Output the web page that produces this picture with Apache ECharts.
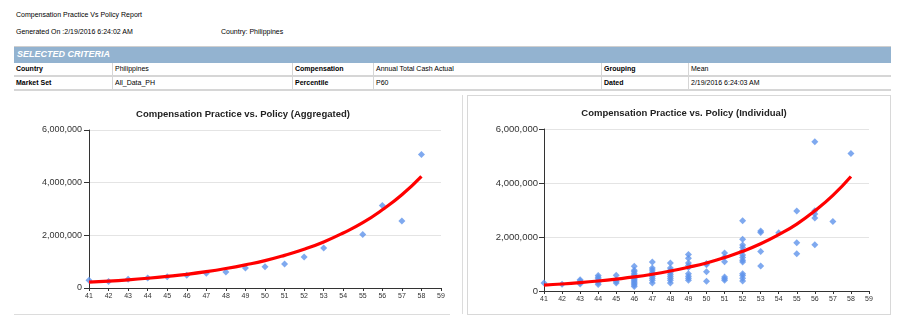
<!DOCTYPE html>
<html><head><meta charset="utf-8">
<script src="https://cdn.jsdelivr.net/npm/echarts@6/dist/echarts.min.js"></script>
<style>
html,body{margin:0;padding:0}
body{width:902px;height:325px;overflow:hidden;background:#fff;font-family:"Liberation Sans",Arial,sans-serif;position:relative}
.t{position:absolute;font-size:7px;color:#000;white-space:nowrap;line-height:9px}
.b{font-weight:bold}
.box{position:absolute}
#chart{position:absolute;left:0;top:0;width:902px;height:325px}
</style>
</head>
<body>
<div class="t" style="left:16px;top:10px">Compensation Practice Vs Policy Report</div>
<div class="t" style="left:16px;top:27px">Generated On :2/19/2016 6:24:02 AM</div>
<div class="t" style="left:221px;top:27px">Country: Philippines</div>

<div class="box" style="left:14px;top:46px;width:877px;height:1px;background:#cfcfcf"></div>
<div class="box" style="left:14px;top:47px;width:877px;height:16px;background:#93b3d0"></div>
<div class="t b" style="left:17px;top:49px;font-size:9px;line-height:11px;color:#fff;font-style:italic">SELECTED CRITERIA</div>
<div class="box" style="left:14px;top:63px;width:877px;height:28px;background:#d6d6d6"></div>
<div id="rows"></div>

<div class="box" style="left:14px;top:314px;width:436px;height:1px;background:#dcdcdc"></div>
<div class="box" style="left:462px;top:95px;width:1px;height:219px;background:#dcdcdc"></div>
<div class="box" style="left:467px;top:95px;width:422px;height:218px;border:1px solid #d8d8d8"></div>

<div id="chart"></div>
<script>
// ---- criteria table text ----
const criteriaRow1 = ["Country", "Philippines", "Compensation", "Annual Total Cash Actual", "Grouping", "Mean"];
const criteriaRow2 = ["Market Set", "All_Data_PH", "Percentile", "P60", "Dated", "2/19/2016 6:24:03 AM"];

// ---- chart data ----
const xTicks = [41,42,43,44,45,46,47,48,49,50,51,52,53,54,55,56,57,58,59];
const yTicks = [0, 2000000, 4000000, 6000000];

const aggAge = [41,42,43,44,45,46,47,48,49,50,51,52,53,55,56,57,58];
const aggPay = [290000,250000,330000,380000,430000,480000,560000,610000,760000,810000,910000,1180000,1520000,2030000,3130000,2540000,5070000];

const policyAge = [41,42,43,44,45,46,47,48,49,50,51,52,53,54,55,56,57,58];
const policyPay = [220000,260000,310000,370000,440000,520000,620000,740000,880000,1040000,1240000,1470000,1750000,2090000,2480000,2970000,3540000,4240000];

const indivAge = [
 41,42,
 43,43,43,43,
 44,44,44,44,44,44,
 45,45,45,45,
 46,46,46,46,46,46,46,46,46,46,46,46,46,
 47,47,47,47,47,47,47,47,47,
 48,48,48,48,48,48,48,48,48,
 49,49,49,49,49,49,49,49,49,
 50,50,50,50,
 51,51,51,51,51,51,
 52,52,52,52,52,52,52,52,52,52,52,52,52,
 53,53,53,53,
 54,
 55,55,55,
 56,56,56,56,56,
 57,58];
const indivPay = [
 300000,250000,
 420000,370000,310000,260000,
 570000,510000,450000,380000,310000,240000,
 580000,420000,350000,300000,
 920000,770000,710000,640000,580000,520000,470000,420000,370000,320000,270000,220000,170000,
 1070000,850000,780000,690000,620000,550000,470000,400000,300000,
 1040000,850000,770000,690000,620000,550000,470000,400000,300000,
 1350000,1210000,1040000,940000,870000,640000,550000,470000,400000,
 1020000,970000,710000,360000,
 1410000,1260000,1080000,520000,450000,400000,
 2600000,1920000,1700000,1610000,1490000,1330000,1240000,1140000,1070000,640000,570000,470000,370000,
 2220000,2170000,1460000,930000,
 2160000,
 2960000,1790000,1380000,
 5530000,2970000,2850000,2700000,1710000,
 2570000,5090000];

const zip = (a, b) => a.map((v, i) => [v, b[i]]);

// build table rows
(function(){
  const cols = [[14,98],[113,179],[293,80],[374,227],[602,86],[689,202]];
  const rowsEl = document.getElementById('rows');
  [[criteriaRow1, 63], [criteriaRow2, 77]].forEach(([row, top]) => {
    row.forEach((txt, i) => {
      const c = document.createElement('div');
      c.className = 'box';
      c.style.cssText = `left:${cols[i][0]}px;top:${top}px;width:${cols[i][1]}px;height:12px;background:#fff`;
      rowsEl.appendChild(c);
      const t = document.createElement('div');
      t.className = 't' + (i % 2 === 0 ? ' b' : '');
      t.style.cssText = `left:${cols[i][0] + 2}px;top:${top + 1}px;line-height:10px`;
      t.textContent = txt;
      rowsEl.appendChild(t);
    });
  });
})();

const fmt = v => String(v).replace(/\B(?=(\d{3})+(?!\d))/g, ',');
const font = 'Liberation Sans';

function xAxisCfg(idx) {
  return {
    type: 'value', gridIndex: idx, min: 41, max: 59, interval: 1,
    axisLine: { show: true, onZero: false, lineStyle: { color: '#333', width: 1 } },
    axisTick: { show: true, length: 3, lineStyle: { color: '#333' } },
    axisLabel: { fontSize: 7, color: '#333', margin: 5, fontFamily: font,
      formatter: v => xTicks.includes(v) ? String(v) : '' },
    splitLine: { show: false }
  };
}
function yAxisCfg(idx, fs, margin) {
  return {
    type: 'value', gridIndex: idx, min: 0, max: 6000000, interval: 2000000,
    axisLine: { show: true, lineStyle: { color: '#333', width: 1 } },
    axisTick: { show: true, length: 5, lineStyle: { color: '#333' } },
    axisLabel: { fontSize: fs, color: '#333', margin: margin, fontFamily: font,
      formatter: v => yTicks.includes(v) ? fmt(v) : '' },
    splitLine: { show: true, lineStyle: { color: '#e4e4e4', width: 1 } }
  };
}

const chart = echarts.init(document.getElementById('chart'), null, { renderer: 'canvas' });
chart.setOption({
  animation: false,
  backgroundColor: 'transparent',
  title: [
    { text: 'Compensation Practice vs. Policy (Aggregated)', left: 238, top: 104, textAlign: 'center',
      textStyle: { fontSize: 9.5, fontWeight: 'bold', color: '#222', fontFamily: font } },
    { text: 'Compensation Practice vs. Policy (Individual)', left: 679, top: 103, textAlign: 'center',
      textStyle: { fontSize: 9.5, fontWeight: 'bold', color: '#222', fontFamily: font } }
  ],
  grid: [
    { left: 89, top: 130, width: 352, height: 158 },
    { left: 544, top: 129, width: 325, height: 162 }
  ],
  xAxis: [xAxisCfg(0), xAxisCfg(1)],
  yAxis: [yAxisCfg(0, 9, 7), yAxisCfg(1, 9.5, 6)],
  series: [
    { type: 'scatter', xAxisIndex: 0, yAxisIndex: 0, data: zip(aggAge, aggPay),
      symbol: 'diamond', symbolSize: 7, itemStyle: { color: '#5f93eb' }, z: 2 },
    { type: 'line', xAxisIndex: 0, yAxisIndex: 0, data: zip(policyAge, policyPay),
      smooth: true, showSymbol: false, lineStyle: { color: '#ff0000', width: 3.2 }, z: 3 },
    { type: 'scatter', xAxisIndex: 1, yAxisIndex: 1, data: zip(indivAge, indivPay),
      symbol: 'diamond', symbolSize: 7, itemStyle: { color: '#5f93eb' }, z: 2 },
    { type: 'line', xAxisIndex: 1, yAxisIndex: 1, data: zip(policyAge, policyPay),
      smooth: true, showSymbol: false, lineStyle: { color: '#ff0000', width: 3.2 }, z: 3 }
  ]
});
</script>
</body></html>
